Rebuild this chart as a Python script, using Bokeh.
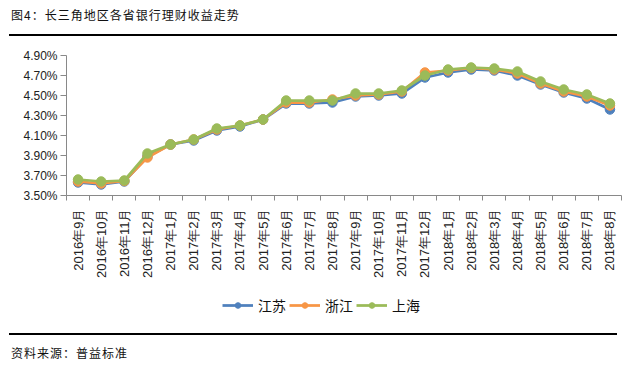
import math
from bokeh.plotting import figure
from bokeh.models import Div, FixedTicker, PrintfTickFormatter, Legend, LegendItem
from bokeh.layouts import column
from bokeh.embed import file_html
from bokeh.resources import INLINE

title_text = "图4：长三角地区各省银行理财收益走势"
source_text = "资料来源：普益标准"

categories = ["2016年9月", "2016年10月", "2016年11月", "2016年12月",
              "2017年1月", "2017年2月", "2017年3月", "2017年4月", "2017年5月",
              "2017年6月", "2017年7月", "2017年8月", "2017年9月", "2017年10月",
              "2017年11月", "2017年12月", "2018年1月", "2018年2月", "2018年3月",
              "2018年4月", "2018年5月", "2018年6月", "2018年7月", "2018年8月"]

series_names = ["江苏", "浙江", "上海"]
jiangsu = [3.63, 3.61, 3.64, 3.89, 4.01, 4.05, 4.15, 4.19, 4.26, 4.42, 4.42, 4.43,
           4.49, 4.50, 4.52, 4.68, 4.73, 4.76, 4.75, 4.70, 4.61, 4.53, 4.47, 4.36]
zhejiang = [3.64, 3.62, 3.645, 3.88, 4.01, 4.06, 4.16, 4.20, 4.26, 4.43, 4.43, 4.46,
            4.50, 4.51, 4.54, 4.73, 4.75, 4.775, 4.76, 4.72, 4.62, 4.54, 4.49, 4.40]
shanghai = [3.66, 3.64, 3.65, 3.92, 4.01, 4.06, 4.17, 4.20, 4.26, 4.45, 4.45, 4.45,
            4.52, 4.52, 4.55, 4.70, 4.76, 4.78, 4.77, 4.74, 4.64, 4.56, 4.51, 4.42]
y_ticks = [3.5, 3.7, 3.9, 4.1, 4.3, 4.5, 4.7, 4.9]

colors = ["#4F81BD", "#F79646", "#9BBB59"]
all_series = [jiangsu, zhejiang, shanghai]

n = len(categories)
xs = [i + 0.5 for i in range(n)]

p = figure(width=623, height=240, x_range=(0, n), y_range=(3.5, 4.9),
           output_backend="svg", toolbar_location=None,
           min_border_left=66, min_border_right=2, min_border_top=15,
           min_border_bottom=85)
p.outline_line_color = None
p.xgrid.visible = False
p.ygrid.visible = False

for vals, c in zip(all_series, colors):
    p.line(xs, vals, line_color=c, line_width=2.75)
    p.scatter(xs, vals, size=9.5, fill_color=c, line_color=c)

# y axis
p.yaxis.ticker = FixedTicker(ticks=y_ticks)
p.yaxis.formatter = PrintfTickFormatter(format="%.2f%%")
p.yaxis.axis_line_color = "#898989"
p.yaxis.major_tick_line_color = "#898989"
p.yaxis.major_tick_out = 6
p.yaxis.major_tick_in = 0
p.yaxis.minor_tick_line_color = None
p.yaxis.major_label_standoff = 3
p.yaxis.major_label_text_font = "Liberation Sans"
p.yaxis.major_label_text_font_size = "12px"
p.yaxis.major_label_text_color = "#222222"

# x axis
p.xaxis.ticker = FixedTicker(ticks=xs, minor_ticks=list(range(n + 1)))
p.xaxis.major_label_overrides = {x: c for x, c in zip(xs, categories)}
p.xaxis.axis_line_color = "#898989"
p.xaxis.major_tick_line_color = None
p.xaxis.major_tick_out = 0
p.xaxis.major_tick_in = 0
p.xaxis.minor_tick_line_color = "#898989"
p.xaxis.minor_tick_out = 5
p.xaxis.minor_tick_in = 0
p.xaxis.major_label_orientation = math.pi / 2
p.xaxis.major_label_standoff = 8
p.xaxis.major_label_text_font = "Liberation Sans"
p.xaxis.major_label_text_font_size = "13px"
p.xaxis.major_label_text_color = "#222222"

# legend strip: same series drawn outside its visible ranges, only the legend shows
lg = figure(width=623, height=50, x_range=(100, 101), y_range=(100, 101),
            output_backend="svg", toolbar_location=None,
            x_axis_location=None, y_axis_location=None, min_border=0)
lg.outline_line_color = None
lg.xgrid.visible = False
lg.ygrid.visible = False
items = []
for name, vals, c in zip(series_names, all_series, colors):
    r1 = lg.line(xs, vals, line_color=c, line_width=2.75)
    r2 = lg.scatter(xs, vals, size=9.5, fill_color=c, line_color=c)
    items.append(LegendItem(label=name, renderers=[r1, r2]))
legend = Legend(items=items, orientation="horizontal", location=(156, 15),
                glyph_width=31, glyph_height=14, label_standoff=5, spacing=3,
                padding=0, margin=0, border_line_color=None, background_fill_alpha=0,
                label_text_font="Noto Sans CJK SC", label_text_font_size="14px",
                label_text_color="#111111")
lg.add_layout(legend)

head = Div(text=('<div style="margin-left:9px;width:608px;height:36px;box-sizing:border-box;'
                 'border-bottom:2px solid #000;padding-left:2px;padding-top:8px;'
                 'font-family:\'Noto Sans CJK SC\';font-size:12px;letter-spacing:1px;'
                 'line-height:14px;color:#111;">' + title_text + '</div>'),
           width=623, height=40, margin=(0, 0, 0, 0))
foot = Div(text=('<div style="margin-left:9px;width:608px;margin-top:3px;box-sizing:border-box;'
                 'border-top:2px solid #000;padding-left:2px;padding-top:11px;'
                 'font-family:\'Noto Sans CJK SC\';font-size:12px;letter-spacing:1px;'
                 'line-height:14px;color:#111;">' + source_text + '</div>'),
           width=623, height=36, margin=(0, 0, 0, 0))

layout = column(head, p, lg, foot, spacing=0)
open("out.html", "w").write(file_html(layout, INLINE))
